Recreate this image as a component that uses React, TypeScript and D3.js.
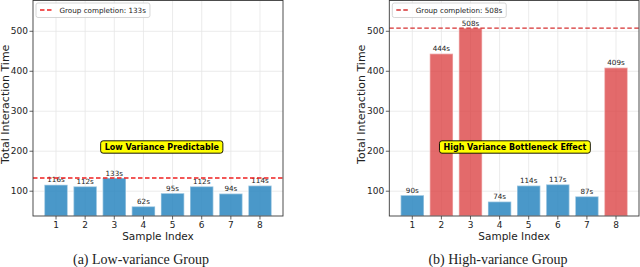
import React, { useEffect, useRef } from 'react';
import * as d3 from 'd3';

// data
const sampleIndex = [1, 2, 3, 4, 5, 6, 7, 8];
const lowVarianceTimes = [116, 112, 133, 62, 95, 112, 94, 114];
const highVarianceTimes = [90, 444, 508, 74, 114, 117, 87, 409];
const groupCompletion = [133, 508];
const yTickValues = [100, 200, 300, 400, 500];
const annotations = ['Low Variance Predictable', 'High Variance Bottleneck Effect'];
const captions = ['(a) Low-variance Group', '(b) High-variance Group'];
const bottleneckCutoff = 200;

const W = 640, H = 267;
const FONT = 'DejaVu Sans';

function drawPanel(svg: any, opts: any) {
  const { x0, x1, top, bottom, values, completion, note, noteX, caption, lineColor } = opts;
  const g = svg.append('g');

  const x = d3.scaleLinear().domain([0.21, 8.79]).range([x0, x1]);
  const y = d3.scaleLinear().domain([38, 577]).range([bottom, top]);
  const bw = x(1.4) - x(0.6);

  // grid
  g.selectAll('.gx').data(sampleIndex).join('line')
    .attr('x1', (d: number) => x(d)).attr('x2', (d: number) => x(d))
    .attr('y1', top).attr('y2', bottom)
    .attr('stroke', '#e6e6e6').attr('stroke-width', 0.8);
  g.selectAll('.gy').data(yTickValues).join('line')
    .attr('x1', x0).attr('x2', x1)
    .attr('y1', (d: number) => y(d)).attr('y2', (d: number) => y(d))
    .attr('stroke', '#e6e6e6').attr('stroke-width', 0.8);

  // bars
  g.selectAll('.bar').data(values).join('rect')
    .attr('x', (d: number, i: number) => x(sampleIndex[i]) - bw / 2)
    .attr('width', bw)
    .attr('y', (d: number) => y(d))
    .attr('height', (d: number) => bottom - y(d))
    .attr('fill', (d: number) => d > bottleneckCutoff ? '#d9383a' : '#2a86c0')
    .attr('fill-opacity', (d: number) => d > bottleneckCutoff ? 0.75 : 0.85)
    .attr('stroke', '#ffffff').attr('stroke-opacity', 0.4).attr('stroke-width', 1.5);

  // value labels
  g.selectAll('.vl').data(values).join('text')
    .attr('x', (d: number, i: number) => x(sampleIndex[i]))
    .attr('y', (d: number) => y(d) - 2.5)
    .attr('text-anchor', 'middle')
    .attr('font-family', FONT).attr('font-size', 7.2).attr('fill', '#222')
    .text((d: number) => `${d}s`);

  // completion line
  g.append('line')
    .attr('x1', x0).attr('x2', x1)
    .attr('y1', y(completion)).attr('y2', y(completion))
    .attr('stroke', lineColor).attr('stroke-width', 1.4)
    .attr('stroke-dasharray', '4.5,2.5');

  // frame
  g.append('rect')
    .attr('x', x0).attr('y', top).attr('width', x1 - x0).attr('height', bottom - top)
    .attr('fill', 'none').attr('stroke', '#3a3a3a').attr('stroke-width', 0.9);

  // y ticks
  const yt = g.selectAll('.yt').data(yTickValues).join('g')
    .attr('transform', (d: number) => `translate(0,${y(d)})`);
  yt.append('line').attr('x1', x0 - 3.5).attr('x2', x0).attr('stroke', '#3a3a3a').attr('stroke-width', 0.8);
  yt.append('text').attr('x', x0 - 5).attr('dy', '0.35em').attr('text-anchor', 'end')
    .attr('font-family', FONT).attr('font-size', 9).attr('fill', '#222')
    .text((d: number) => d);

  // x ticks
  const xt = g.selectAll('.xt').data(sampleIndex).join('g')
    .attr('transform', (d: number) => `translate(${x(d)},${bottom})`);
  xt.append('line').attr('y1', 0).attr('y2', 3.5).attr('stroke', '#3a3a3a').attr('stroke-width', 0.8);
  xt.append('text').attr('y', 11.5).attr('text-anchor', 'middle')
    .attr('font-family', FONT).attr('font-size', 9).attr('fill', '#222')
    .text((d: number) => d);

  // axis labels
  g.append('text').attr('x', (x0 + x1) / 2).attr('y', 239.5)
    .attr('text-anchor', 'middle').attr('font-family', FONT).attr('font-size', 10.5).attr('fill', '#222')
    .text('Sample Index');
  g.append('text')
    .attr('transform', `translate(${x0 - 24},${(top + bottom) / 2 - 4}) rotate(-90)`)
    .attr('text-anchor', 'middle').attr('font-family', FONT).attr('font-size', 11).attr('fill', '#222')
    .text('Total Interaction Time');

  // legend
  const lg = g.append('g');
  const lbox = lg.append('rect');
  lg.append('line').attr('x1', x0 + 7).attr('x2', x0 + 20).attr('y1', 10).attr('y2', 10)
    .attr('stroke', lineColor).attr('stroke-width', 1.4).attr('stroke-dasharray', '4.5,2.5');
  const lt = lg.append('text').attr('x', x0 + 26.5).attr('y', 12.6)
    .attr('font-family', FONT).attr('font-size', 7.2).attr('fill', '#222')
    .text(`Group completion: ${completion}s`);
  const lw = (lt.node() as any).getComputedTextLength();
  lbox.attr('x', x0 + 3).attr('y', 3).attr('width', 26.5 + lw + 4 - 3).attr('height', 14.5)
    .attr('rx', 2).attr('fill', '#fff').attr('fill-opacity', 0.85)
    .attr('stroke', '#cccccc').attr('stroke-width', 0.8);

  // annotation
  const cx = x0 + noteX * (x1 - x0);
  const cy = 147;
  const ab = g.append('rect');
  const at = g.append('text').attr('x', cx).attr('y', cy).attr('dy', '0.36em')
    .attr('text-anchor', 'middle').attr('font-family', FONT).attr('font-weight', 'bold')
    .attr('font-size', 8).attr('fill', '#000').text(note);
  const aw = (at.node() as any).getComputedTextLength();
  ab.attr('x', cx - aw / 2 - 4).attr('y', cy - 6.2).attr('width', aw + 8).attr('height', 12.4)
    .attr('rx', 2.5).attr('fill', '#ffff00').attr('stroke', '#000').attr('stroke-width', 0.9);

  // caption
  g.append('text').attr('x', opts.captionX).attr('y', 263.5)
    .attr('text-anchor', 'middle').attr('font-family', 'Liberation Serif').attr('font-size', 14)
    .attr('fill', '#222').text(caption);
}

export default function App() {
  const ref = useRef<SVGSVGElement>(null);

  useEffect(() => {
    const svg = d3.select(ref.current);
    svg.selectAll('*').remove();
    svg.append('rect').attr('width', W).attr('height', H).attr('fill', '#fff');
    drawPanel(svg, {
      x0: 33, x1: 283, top: 0.5, bottom: 216,
      values: lowVarianceTimes, completion: groupCompletion[0],
      note: annotations[0], noteX: 0.515, caption: captions[0], captionX: 141,
      lineColor: '#ee2020'
    });
    drawPanel(svg, {
      x0: 389.3, x1: 639, top: 0.5, bottom: 216,
      values: highVarianceTimes, completion: groupCompletion[1],
      note: annotations[1], noteX: 0.503, caption: captions[1], captionX: 498,
      lineColor: '#d63031'
    });
  }, []);

  return (
    <svg ref={ref} width={W} height={H} style={{ position: 'absolute', left: 0, top: 0 }} />
  );
}
